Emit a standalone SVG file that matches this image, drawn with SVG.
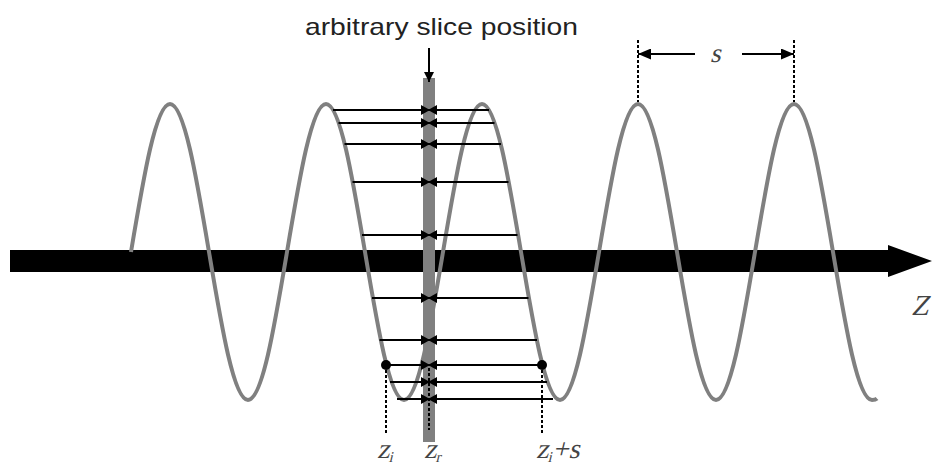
<svg xmlns="http://www.w3.org/2000/svg" width="940" height="466" viewBox="0 0 940 466">
<style>
.wave{fill:none;stroke:#808080;stroke-width:4}
.hl{stroke:#000;stroke-width:2;fill:none;marker-end:url(#ah)}
.dash{stroke:#000;stroke-width:2;stroke-dasharray:3 2;fill:none}
.lbl{font-family:"Liberation Serif","Times New Roman",serif;fill:#444}
.sans{font-family:"Liberation Sans",Arial,sans-serif;fill:#222}
</style>
<defs>
<marker id="ah" markerUnits="userSpaceOnUse" markerWidth="9" markerHeight="10" refX="9" refY="5" orient="auto"><path d="M0,0 L9,5 L0,10 Z" fill="#000"/></marker>
<marker id="ahm" markerUnits="userSpaceOnUse" markerWidth="10" markerHeight="10" refX="10" refY="5" orient="auto"><path d="M0,0 L10,5 L0,10 Z" fill="#000"/></marker>
<marker id="ahb" markerUnits="userSpaceOnUse" markerWidth="13" markerHeight="11" refX="13" refY="5.5" orient="auto"><path d="M0,0 L13,5.5 L0,11 Z" fill="#000"/></marker>
</defs>
<rect width="940" height="466" fill="#fff"/>
<g id="axis">
<path d="M10,250 H888 V245 L932,261 L888,277 V272 H10 Z" fill="#000"/>
<text class="lbl" transform="translate(911,315) skewX(-14)" font-size="29">Z</text>
</g>
<g id="wave">
<path class="wave" d="M131,252 C143.72,176.18 155.89,104 170,104 S196.28,176.18 209,252 S233.89,400 248,400 S274.28,327.82 287,252 S311.89,104 326,104 S352.28,176.18 365,252 S389.89,400 404,400 S430.28,327.82 443,252 S467.89,104 482,104 S508.28,176.18 521,252 S545.89,400 560,400 S586.28,327.82 599,252 S623.89,104 638,104 S664.28,176.18 677,252 S701.89,400 716,400 S742.28,327.82 755,252 S779.89,104 794,104 S820.28,176.18 833,252 S857.89,400 872,400 C874,400 876,399.5 877,398.5"/>
</g>
<g id="slice">
<rect x="423" y="78" width="12" height="364" fill="#808080"/>
<text class="sans" x="305" y="35" font-size="24" textLength="273" lengthAdjust="spacingAndGlyphs">arbitrary slice position</text>
</g>
<g id="connectors">
<path d="M429,48 V82" stroke="#000" stroke-width="2" marker-end="url(#ahm)"/>
<path class="hl" d="M333,110 H430"/><path class="hl" d="M489,110 H428"/>
<path class="hl" d="M338.5,123 H430"/><path class="hl" d="M494.5,123 H428"/>
<path class="hl" d="M344.5,144 H430"/><path class="hl" d="M501,144 H428"/>
<path class="hl" d="M352.5,182 H430"/><path class="hl" d="M508.5,182 H428"/>
<path class="hl" d="M362,235 H430"/><path class="hl" d="M517.5,235 H428"/>
<path class="hl" d="M372,298 H430"/><path class="hl" d="M528.5,298 H428"/>
<path class="hl" d="M379.5,340 H430"/><path class="hl" d="M537,340 H428"/>
<path class="hl" d="M386,365 H430"/><path class="hl" d="M542,365 H428"/>
<path class="hl" d="M390,382 H430"/><path class="hl" d="M547,382 H428"/>
<path class="hl" d="M397,399 H430"/><path class="hl" d="M553,399 H428"/>
<path class="dash" d="M386,365 V433"/>
<path class="dash" d="M542,365 V433"/>
<path class="dash" d="M429,368 V430"/>
<path class="dash" d="M638,40 V102"/>
<path class="dash" d="M794,40 V102"/>
<path d="M695,54 H638" stroke="#000" stroke-width="2" marker-end="url(#ahb)"/>
<path d="M742,54 H794" stroke="#000" stroke-width="2" marker-end="url(#ahb)"/>
</g>
<g id="points">
<circle cx="386" cy="365" r="5" fill="#000"/>
<circle cx="542" cy="365" r="5" fill="#000"/>
</g>
<g id="labels">
<text class="lbl" transform="translate(710,62) skewX(-14)" font-size="27">s</text>
<text class="lbl" transform="translate(377,458) skewX(-14)" font-size="28">z<tspan font-size="15" dy="4">i</tspan></text>
<text class="lbl" transform="translate(424,458) skewX(-14)" font-size="28">z<tspan font-size="15" dy="4">r</tspan></text>
<text class="lbl" transform="translate(536,458) skewX(-14)" font-size="28">z<tspan font-size="15" dy="4">i</tspan><tspan dy="-4">+s</tspan></text>
</g>
</svg>
